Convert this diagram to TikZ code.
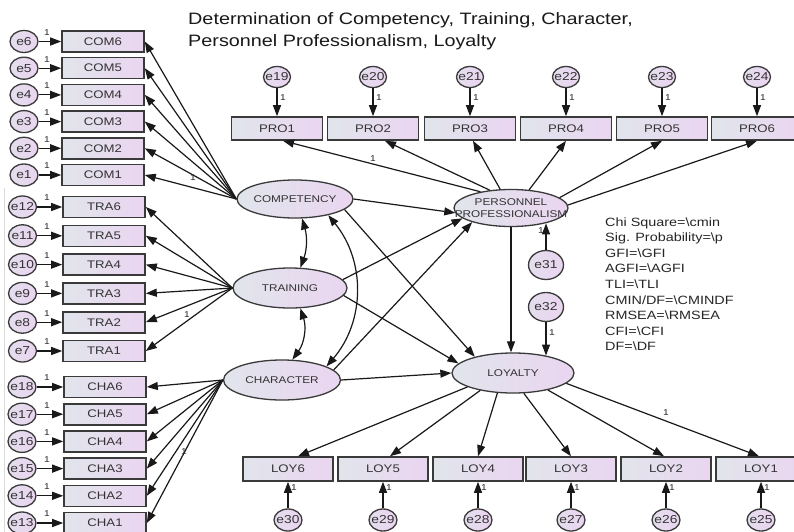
\documentclass[tikz,border=0pt]{standalone}
\usepackage{fontspec}
\setmainfont{Liberation Sans}[FakeStretch=1.2]
\usetikzlibrary{arrows.meta,shapes.geometric,calc}
\definecolor{fillL}{HTML}{E1E5EB}
\definecolor{fillR}{HTML}{EAD5F1}
\definecolor{errL}{HTML}{E4DEEC}
\definecolor{errR}{HTML}{EAD4F1}
\definecolor{edgec}{HTML}{3A3A3A}
\definecolor{txt}{HTML}{333333}
\begin{document}
\begin{tikzpicture}[x=1pt,y=-1pt,
  obs/.style={draw=edgec, line width=1.6pt, left color=fillL, right color=fillR, rectangle, inner sep=0pt, font=\fontsize{11}{12}\selectfont, text=txt},
  obsA/.style={obs, minimum width=82pt, minimum height=21pt},
  obsB/.style={obs, minimum width=91pt, minimum height=23pt},
  obsC/.style={obs, minimum width=90pt, minimum height=24pt},
  lat/.style={draw=edgec, line width=1.3pt, ellipse, left color=fillL, right color=fillR, inner sep=0pt},
  lattext/.style={font=\fontsize{9.8}{12.5}\selectfont, text=txt, align=center, inner sep=0pt},
  err/.style={draw=edgec, line width=1.3pt, ellipse, left color=errL, right color=errR, inner sep=0pt, minimum width=28pt, minimum height=22pt},
  errbig/.style={err, minimum width=35pt, minimum height=29pt},
  errtext/.style={font=\fontsize{11.5}{12}\selectfont, text=txt, inner sep=0pt},
  arr/.style={-{Triangle[length=11pt,width=8pt]}, line width=1.2pt, draw=black!90},
  cov/.style={{Triangle[length=11pt,width=8pt]}-{Triangle[length=11pt,width=8pt]}, line width=1.2pt, draw=black!90},
  one/.style={font=\fontsize{8.5}{9}\selectfont, inner sep=0pt, text=black!85},
  stat/.style={font=\fontsize{12}{14}\selectfont, text=black!85, inner sep=0pt, anchor=base west},
  ttl/.style={font=\fontsize{16.5}{20}\selectfont, text=black!90, inner sep=0pt, anchor=base west},
]
\useasboundingbox (0,0) rectangle (794,532);
\clip (0,0) rectangle (794,532);
\fill[white] (0,0) rectangle (794,532);
\draw[gray!30, line width=0.8pt] (4.5,188) -- (4.5,532);

% title
\node[ttl] (t1) at (188,25) {Determination of Competency, Training, Character,};
\node[ttl] (t2) at (188,47) {Personnel Professionalism, Loyalty};

% left indicators
\foreach \i/\e/\y in {6/6/41.5,5/5/68.2,4/4/94.9,3/3/121.6,2/2/148.3,1/1/175}{
  \node[obsA] (com\i) at (103,\y) {COM\i};
  \node[err, label={[errtext]center:e\e}] (e\e) at (24,\y) {};
  \draw[arr] (e\e) -- (com\i);
  \node[one] (o\e) at (47,\y-9) {1};
}
\foreach \i/\e/\y in {6/12/207,5/11/235.8,4/10/264.6,3/9/293.4,2/8/322.2,1/7/351}{
  \node[obsA] (tra\i) at (104,\y) {TRA\i};
  \node[err, label={[errtext]center:e\e}] (e\e) at (22.5,\y) {};
  \draw[arr] (e\e) -- (tra\i);
  \node[one] (o\e) at (47,\y-9) {1};
}
\foreach \i/\e/\y in {6/18/387,5/17/414.2,4/16/441.4,3/15/468.6,2/14/495.8,1/13/523}{
  \node[obsA] (cha\i) at (105,\y) {CHA\i};
  \node[err, label={[errtext]center:e\e}] (e\e) at (22,\y) {};
  \draw[arr] (e\e) -- (cha\i);
  \node[one] (o\e) at (47,\y-9) {1};
}

% top indicators
\foreach \i/\e/\x in {1/19/277,2/20/373,3/21/470,4/22/566,5/23/662,6/24/757}{
  \node[obsB] (pro\i) at (\x,128.5) {PRO\i};
  \node[err, minimum width=27pt, minimum height=21pt, label={[errtext]center:e\e}] (e\e) at (\x,77) {};
  \draw[arr] (e\e) -- (pro\i);
  \node[one] (o\e) at (\x+6,98) {1};
}

% bottom indicators
\foreach \i/\e/\x in {6/30/288,5/29/383,4/28/478,3/27/571,2/26/666,1/25/761}{
  \node[obsC] (loy\i) at (\x,469) {LOY\i};
  \node[err, label={[errtext]center:e\e}] (e\e) at (\x,520) {};
  \draw[arr] (e\e) -- (loy\i);
  \node[one] (o\e) at (\x+6,488) {1};
}

% latent variables
\node[lat, minimum width=116pt, minimum height=38pt] (comp) at (295,199) {};
\node[lattext] (compt) at (comp) {COMPETENCY};
\node[lat, minimum width=114pt, minimum height=40pt] (train) at (290,288) {};
\node[lattext] (traint) at (train) {TRAINING};
\node[lat, minimum width=117pt, minimum height=40pt] (char) at (282,380) {};
\node[lattext] (chart) at (char) {CHARACTER};
\node[lat, minimum width=114pt, minimum height=37pt] (pp) at (511,208) {};
\node[lattext] (ppt) at (pp) {PERSONNEL\\PROFESSIONALISM};
\node[lat, minimum width=122pt, minimum height=40pt] (loyal) at (513,373) {};
\node[lattext] (loyalt) at (loyal) {LOYALTY};

\node[errbig, label={[errtext]center:e31}] (e31) at (546,265) {};
\node[errbig, label={[errtext]center:e32}] (e32) at (546,307) {};

% measurement paths
\foreach \i in {1,...,6}{
  \draw[arr] (comp.west) -- (com\i.east);
  \draw[arr] (train.west) -- (tra\i.east);
  \draw[arr] (char.west) -- (cha\i.east);
}
\draw[arr] (pp.152) -- ([xshift=6pt]pro1.south);
\draw[arr] (pp.140) -- ([xshift=12pt]pro2.south);
\draw[arr] (pp.120) -- ([xshift=3pt]pro3.south);
\draw[arr] (pp.45) -- (pro4.south);
\draw[arr] (pp.12) -- (pro5.south);
\draw[arr] (pp.3) -- (pro6.south);

\draw[arr] (loyal.197) -- ([xshift=10pt]loy6.north);
\draw[arr] (loyal.208) -- ([xshift=7pt]loy5.north);
\draw[arr] (loyal.232) -- (loy4.north);
\draw[arr] (loyal.298) -- (loy3.north);
\draw[arr] (loyal.334) -- ([xshift=-2pt]loy2.north);
\draw[arr] (loyal.349) -- ([xshift=-2pt]loy1.north);

% structural paths
\draw[arr] (comp.east) -- (pp.185);
\draw[arr] (comp.348) -- (loyal.157);
\draw[arr] (train.9) -- (pp.192);
\draw[arr] (train.352) -- (loyal.170);
\draw[arr] (char.11) -- (pp.200);
\draw[arr] (char.east) -- (loyal.west);
\draw[arr] (pp.south) -- (pp.south |- loyal.north);
\draw[arr] (e31.north) -- (e31.north |- pp.336);
\draw[arr] (e32.south) -- (e32.south |- loyal.28);

% covariances
\draw[cov] (comp.290) to[bend left=18] (train.63);
\draw[cov] (train.297) to[bend left=27] (char.63);
\draw[cov] (comp.334) to[bend left=40] (char.17);

% fixed loadings
\node[one] (ocom) at (193,178) {1};
\node[one] (otra) at (187,315) {1};
\node[one] (ocha) at (184,452) {1};
\node[one] (opro) at (373,159) {1};
\node[one] (oloy) at (666,413) {1};
\node[one] (o31) at (541,231) {1};
\node[one] (o32) at (552,333) {1};

% fit statistics
\node[stat] (s1) at (605,226) {Chi Square=\textbackslash cmin};
\node[stat] (s2) at (605,241.6) {Sig. Probability=\textbackslash p};
\node[stat] (s3) at (605,257.2) {GFI=\textbackslash GFI};
\node[stat] (s4) at (605,272.8) {AGFI=\textbackslash AGFI};
\node[stat] (s5) at (605,288.4) {TLI=\textbackslash TLI};
\node[stat] (s6) at (605,304) {CMIN/DF=\textbackslash CMINDF};
\node[stat] (s7) at (605,319.6) {RMSEA=\textbackslash RMSEA};
\node[stat] (s8) at (605,335.2) {CFI=\textbackslash CFI};
\node[stat] (s9) at (605,350.8) {DF=\textbackslash DF};
\end{tikzpicture}
\end{document}
